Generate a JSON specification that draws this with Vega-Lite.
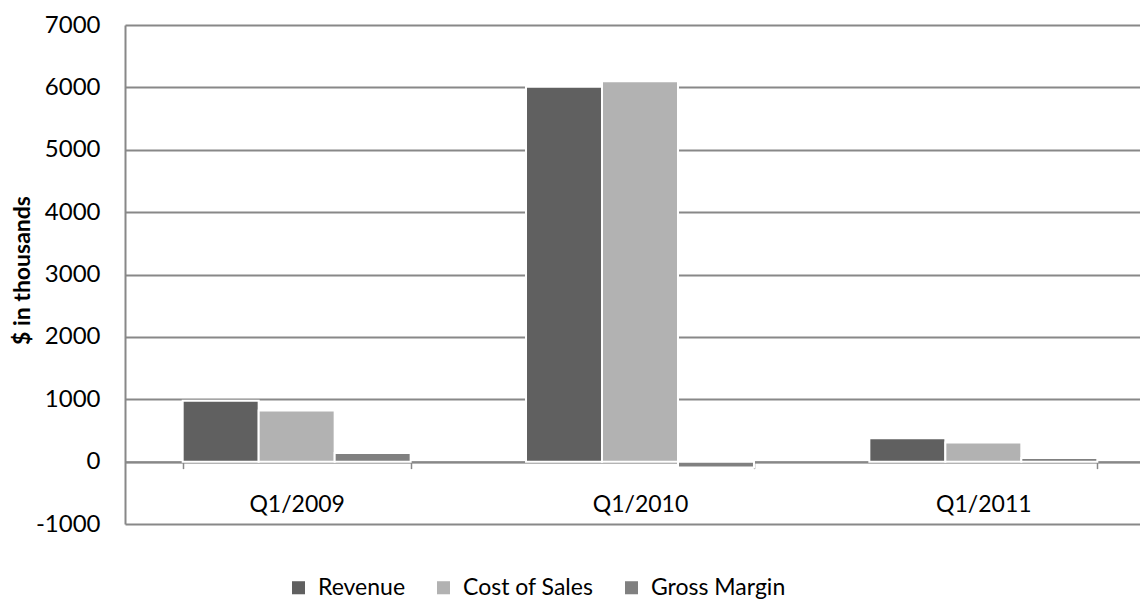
{
  "$schema": "https://vega.github.io/schema/vega-lite/v6.json",
  "autosize": "none",
  "padding": {"left": 125, "top": 25, "right": 0, "bottom": 75},
  "width": 1015,
  "height": 499,
  "background": "white",
  "config": {
    "view": {"stroke": null},
    "font": "Lato"
  },
  "data": {
    "values": [
      {"quarter": "Q1/2009", "series": "Revenue", "value": 975},
      {"quarter": "Q1/2009", "series": "Cost of Sales", "value": 820},
      {"quarter": "Q1/2009", "series": "Gross Margin", "value": 140},
      {"quarter": "Q1/2010", "series": "Revenue", "value": 6010},
      {"quarter": "Q1/2010", "series": "Cost of Sales", "value": 6100},
      {"quarter": "Q1/2010", "series": "Gross Margin", "value": -95},
      {"quarter": "Q1/2011", "series": "Revenue", "value": 375},
      {"quarter": "Q1/2011", "series": "Cost of Sales", "value": 305},
      {"quarter": "Q1/2011", "series": "Gross Margin", "value": 60}
    ]
  },
  "mark": {"type": "bar", "stroke": "white", "strokeWidth": 2},
  "encoding": {
    "x": {
      "field": "quarter",
      "type": "nominal",
      "sort": ["Q1/2009", "Q1/2010", "Q1/2011"],
      "scale": {"paddingInner": 0.336, "paddingOuter": 0.168, "range": [0, 1030]},
      "axis": {
        "title": null,
        "orient": "bottom",
        "offset": -62.375,
        "labelAngle": 0,
        "labelFont": "Lato",
        "labelFontSize": 23,
        "labelColor": "#000000",
        "labelPadding": 25,
        "tickBand": "extent",
        "tickSize": 7,
        "tickColor": "#888888",
        "tickWidth": 1.5,
        "domainColor": "#888888",
        "domainWidth": 2,
        "grid": false
      }
    },
    "xOffset": {
      "field": "series",
      "type": "nominal",
      "sort": ["Revenue", "Cost of Sales", "Gross Margin"],
      "scale": {"paddingInner": 0, "paddingOuter": 0}
    },
    "y": {
      "field": "value",
      "type": "quantitative",
      "scale": {"domain": [-1000, 7000], "nice": false, "zero": false},
      "axis": {
        "title": "$ in thousands",
        "titleFont": "Lato",
        "titleFontSize": 23,
        "titleFontWeight": "bold",
        "titleColor": "#000000",
        "titleX": -103,
        "titleY": 245,
        "titleAngle": 270,
        "titleAlign": "center",
        "titleBaseline": "middle",
        "values": [-1000, 0, 1000, 2000, 3000, 4000, 5000, 6000, 7000],
        "labelExpr": "'' + datum.value",
        "labelFont": "Lato",
        "labelFontSize": 24,
        "labelColor": "#000000",
        "labelPadding": 25,
        "ticks": false,
        "domainColor": "#888888",
        "domainWidth": 2,
        "grid": true,
        "gridColor": "#888888",
        "gridWidth": 2
      }
    },
    "color": {
      "field": "series",
      "type": "nominal",
      "sort": ["Revenue", "Cost of Sales", "Gross Margin"],
      "scale": {
        "domain": ["Revenue", "Cost of Sales", "Gross Margin"],
        "range": ["#606060", "#b2b2b2", "#808080"]
      },
      "legend": {
        "title": null,
        "orient": "none",
        "direction": "horizontal",
        "legendX": 162,
        "legendY": 551,
        "symbolType": "square",
        "symbolSize": 170,
        "symbolStrokeWidth": 0,
        "symbolOpacity": 1,
        "labelFont": "Lato",
        "labelFontSize": 23,
        "labelColor": "#000000",
        "labelOffset": 8,
        "columnPadding": 26
      }
    }
  }
}
